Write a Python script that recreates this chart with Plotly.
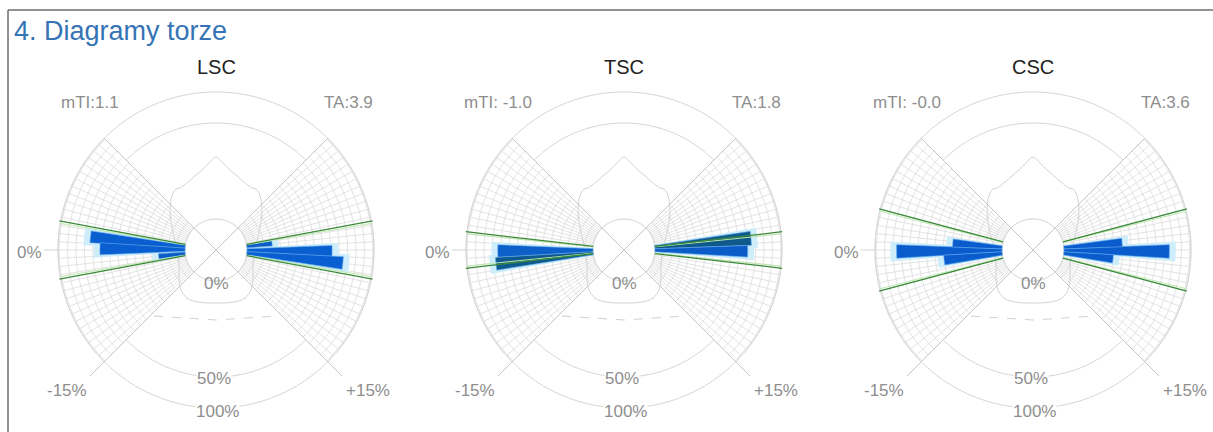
import numpy as np
import plotly.graph_objects as go

# ---------------- data ----------------
panel_names = ["LSC", "TSC", "CSC"]
mti_labels = ["mTI:1.1", "mTI: -1.0", "mTI: -0.0"]
ta_labels = ["TA:3.9", "TA:1.8", "TA:3.6"]
green_limit = [3.5, 2.2, 5.0]          # torsion % of the green reference lines

# half-histograms: bin centre (torsion %), bin width (%), frequency (% of ring scale)
lsc_left_t = [2.0, 0.2, -2.1]
lsc_left_w = [1.8, 2.0, 1.7]
lsc_left_v = [75, 67, 21]
lsc_right_t = [-2.2, 0.15, 1.95]
lsc_right_w = [1.7, 1.8, 1.9]
lsc_right_v = [20, 67, 76]

tsc_left_t = [-0.15, -2.05]
tsc_left_w = [1.9, 1.9]
tsc_left_v = [75, 77]
tsc_right_t = [-1.75, 0.2]
tsc_right_w = [2.1, 1.8]
tsc_right_v = [76, 73]

csc_left_t = [-0.2, 1.65, -2.15]
csc_left_w = [1.9, 1.9, 2.1]
csc_left_v = [83, 39, 46]
csc_right_t = [0.2, -1.6, 2.1]
csc_right_w = [1.9, 1.8, 2.0]
csc_right_v = [83, 46, 39]

left_t = [lsc_left_t, tsc_left_t, csc_left_t]
left_w = [lsc_left_w, tsc_left_w, csc_left_w]
left_v = [lsc_left_v, tsc_left_v, csc_left_v]
right_t = [lsc_right_t, tsc_right_t, csc_right_t]
right_w = [lsc_right_w, tsc_right_w, csc_right_w]
right_v = [lsc_right_v, tsc_right_v, csc_right_v]

# ---------------- layout / style ----------------
W, H = 1213, 432
centers_x = [216, 624, 1033]
CY = 250
R = 180                      # px radius of each polar area
HOLE_PX = 31                 # inner circle radius (0 %)
RING_PX = 158                # outer ring (100 %)
PX_PER_U = (RING_PX - HOLE_PX) / 100.0
RMIN = -HOLE_PX / PX_PER_U
RMAX = (R - HOLE_PX) / PX_PER_U
DEG_PER_PCT = 3.0            # +-15 % torsion -> +-45 deg

bar_colors_left = [["#0a5fd0", "#0a5fd0", "#0b5cc4"],
                   ["#0c60c8", "#0e5a8e"],
                   ["#0a5ccc", "#0a5ccc", "#0a5ccc"]]
bar_colors_right = [["#0b5cc4", "#0a5fd0", "#0a5fd0"],
                    ["#0f5a8a", "#0c5cc8"],
                    ["#0a5ccc", "#0a5ccc", "#0a5ccc"]]

GRID = "#dcdcdc"
DIAG = "#c6c6c6"
LABEL = "#8e8e8e"
FONT = "Liberation Sans, Arial, sans-serif"

# decorative drop outline (px offsets from centre, y up)
drop_half = [(0, 93), (7, 87), (14, 80), (21, 74), (28, 68), (33, 64), (36, 62), (40, 61),
             (43, 57), (45, 50), (46, 40), (45, 28), (42, 14), (39, 0), (37, -14),
             (37, -28), (35, -40), (29, -48), (18, -52), (0, -53)]


def px_to_polar(pts):
    th, rr = [], []
    for dx, dy in pts:
        th.append(np.degrees(np.arctan2(dy, dx)))
        rr.append((np.hypot(dx, dy) - HOLE_PX) / PX_PER_U)
    return th, rr


fig = go.Figure()

# ---- background polars (grid, rings, outlines) ----
for i in range(3):
    sp = "polar" if i == 0 else f"polar{i+1}"

    th, rr = [], []
    for side in (0, 180):
        for a in np.arange(-45, 46, 3):
            th += [side + a, side + a, None]
            rr += [0, 100, None]
        for u in list(np.arange(0, 100, 6.6)) + [100]:
            arc = np.linspace(side - 45, side + 45, 61)
            th += list(arc) + [None]
            rr += [u] * len(arc) + [None]
    fig.add_trace(go.Scatterpolar(theta=th, r=rr, mode="lines", subplot=sp,
                                  line=dict(color=GRID, width=0.8), hoverinfo="skip"))

    pts = drop_half + [(-x, y) for x, y in reversed(drop_half[:-1])]
    dth, drr = px_to_polar(pts)
    fig.add_trace(go.Scatterpolar(theta=dth, r=drr, mode="lines", subplot=sp,
                                  line=dict(color="#d2d2d2", width=1, shape="spline"),
                                  hoverinfo="skip"))
    bth, brr = px_to_polar([(-62, -66), (0, -70), (62, -66)])
    fig.add_trace(go.Scatterpolar(theta=bth, r=brr, mode="lines", subplot=sp,
                                  line=dict(color="#d0d0d0", width=1, dash="dash"),
                                  hoverinfo="skip"))

    r50 = (127 - HOLE_PX) / PX_PER_U
    th, rr = [], []
    for a0 in (45, 225):
        arc = np.linspace(a0, a0 + 90, 91)
        th += list(arc) + [None]
        rr += [r50] * len(arc) + [None]
    arc = np.linspace(0, 360, 361)
    th += list(arc) + [None]
    rr += [100] * len(arc) + [None]
    th += [180, 180]
    rr += [100, 111]
    fig.add_trace(go.Scatterpolar(theta=th, r=rr, mode="lines", subplot=sp,
                                  line=dict(color="#d4d4d4", width=1), hoverinfo="skip"))

    fig.add_trace(go.Scatterpolar(theta=list(np.linspace(0, 360, 181)), r=[0] * 181,
                                  mode="lines", fill="toself", fillcolor="white",
                                  subplot=sp, line=dict(color="#cccccc", width=1),
                                  hoverinfo="skip"))

    fig.add_trace(go.Scatterpolar(
        theta=[45, 45, None, 135, 135, None, 225, 225, None, 315, 315],
        r=[RMIN, 100, None, RMIN, 100, None, RMIN, 116, None, RMIN, 116],
        mode="lines", subplot=sp, line=dict(color=DIAG, width=1), hoverinfo="skip"))

# ---- foreground polars (bars, reference lines) ----
for i in range(3):
    sp = f"polar{i+4}"
    lt = [180 - DEG_PER_PCT * t for t in left_t[i]]
    rt = [-DEG_PER_PCT * t for t in right_t[i]]
    lw = [DEG_PER_PCT * w for w in left_w[i]]
    rw = [DEG_PER_PCT * w for w in right_w[i]]
    fig.add_trace(go.Barpolar(theta=lt + rt, r=[v + 5 for v in left_v[i] + right_v[i]],
                              width=[w + 2.4 for w in lw + rw], base=0, subplot=sp,
                              marker=dict(color="#cdedfb", line=dict(width=0)),
                              hoverinfo="skip"))
    fig.add_trace(go.Barpolar(theta=lt + rt, r=left_v[i] + right_v[i], width=lw + rw,
                              base=0, subplot=sp,
                              marker=dict(color=bar_colors_left[i] + bar_colors_right[i],
                                          line=dict(color="#5fa8ee", width=0.6))))

    g = green_limit[i] * DEG_PER_PCT
    th, rr = [], []
    for ang in (g, -g, 180 + g, 180 - g):
        th += [ang, ang, None]
        rr += [0, 101, None]
    th2, rr2 = [], []
    gi = g - 0.8
    for ang in (gi, -gi, 180 + gi, 180 - gi):
        th2 += [ang, ang, None]
        rr2 += [0, 100, None]
    fig.add_trace(go.Scatterpolar(theta=th2, r=rr2, mode="lines", subplot=sp,
                                  line=dict(color="#bfe8ae", width=1), hoverinfo="skip"))
    fig.add_trace(go.Scatterpolar(theta=th, r=rr, mode="lines", subplot=sp,
                                  line=dict(color="#3b8a3b", width=1.3), hoverinfo="skip"))

polars = {}
for k in range(6):
    cx = centers_x[k % 3]
    key = "polar" if k == 0 else f"polar{k+1}"
    polars[key] = dict(
        domain=dict(x=[max(0, (cx - R) / W), min(1, (cx + R) / W)],
                    y=[(H - CY - R) / H, (H - CY + R) / H]),
        bgcolor="rgba(0,0,0,0)",
        barmode="overlay",
        radialaxis=dict(range=[RMIN, RMAX], visible=False, showgrid=False),
        angularaxis=dict(visible=False, showgrid=False, rotation=0,
                         direction="counterclockwise"),
    )

ann = []


def add_text(x, y, text, size, color, anchor="center", bg=None):
    d = dict(x=x / W, y=1 - y / H, xref="paper", yref="paper", text=text,
             showarrow=False, xanchor=anchor, yanchor="middle",
             font=dict(family=FONT, size=size, color=color))
    if bg:
        d.update(bgcolor=bg, borderpad=0)
    ann.append(d)


add_text(12, 31, "4. Diagramy torze", 27, "#3474b5", anchor="left")
for i, cx in enumerate(centers_x):
    add_text(cx, 67, panel_names[i], 20, "#222222")
    add_text(cx - 126, 102, mti_labels[i], 17, LABEL)
    add_text(cx + 132, 102, ta_labels[i], 17, LABEL)
    add_text(cx - 187, 252, "0%", 17, LABEL)
    add_text(cx, 283, "0%", 17, LABEL)
    add_text(cx - 2, 378, "50%", 17, LABEL, bg="white")
    add_text(cx + 1, 411, "100%", 17, LABEL, bg="white")
    add_text(cx - 149, 390, "-15%", 17, LABEL)
    add_text(cx + 152, 390, "+15%", 17, LABEL)

shapes = [
    dict(type="line", xref="paper", yref="paper", x0=8 / W, x1=1, y0=1 - 10 / H, y1=1 - 10 / H,
         line=dict(color="#6e6e6e", width=1.5)),
    dict(type="line", xref="paper", yref="paper", x0=8 / W, x1=8 / W, y0=0, y1=1 - 10 / H,
         line=dict(color="#6e6e6e", width=1.5)),
]

fig.update_layout(width=W, height=H, margin=dict(l=0, r=0, t=0, b=0),
                  paper_bgcolor="white", plot_bgcolor="white", showlegend=False,
                  annotations=ann, shapes=shapes, **polars)

fig.write_html("out.html")
